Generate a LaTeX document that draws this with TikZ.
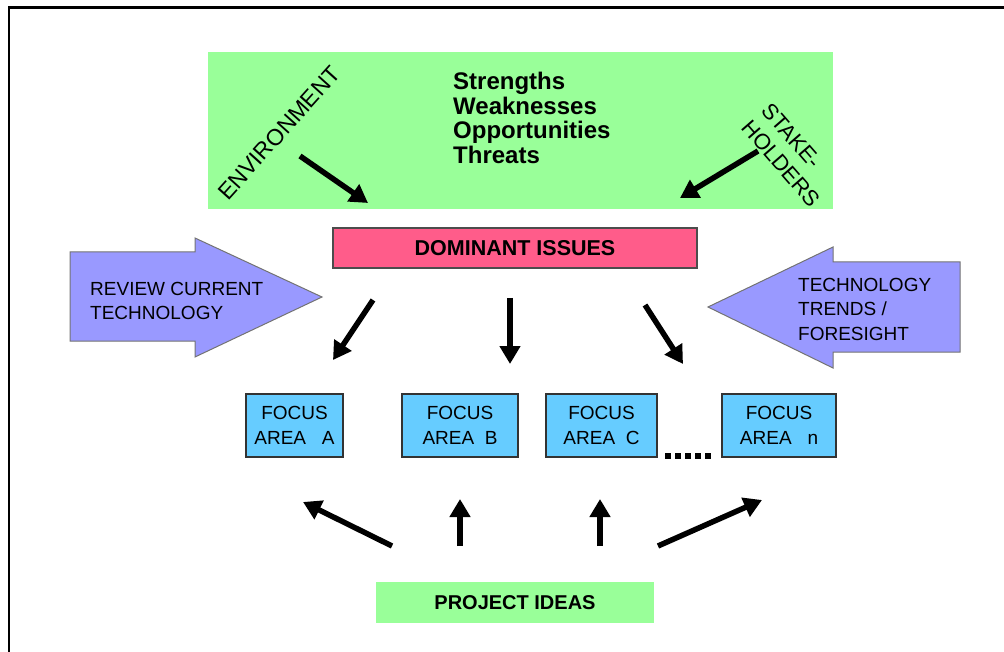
\documentclass[tikz,border=0pt]{standalone}
\usepackage{fontspec}
\setmainfont{Liberation Sans}
\usetikzlibrary{arrows.meta}
\definecolor{swotgreen}{HTML}{99FF99}
\definecolor{issuepink}{HTML}{FF5C8A}
\definecolor{bigarrow}{HTML}{9999FF}
\definecolor{focusblue}{HTML}{66CCFF}
\begin{document}
\begin{tikzpicture}[x=1pt,y=-1pt,
  fat/.style={line width=5.5pt,-{Triangle[length=18pt,width=20pt]}},
  greenbox/.style={fill=swotgreen,draw=none,inner sep=0pt},
  focusbox/.style={draw=black!80,line width=1.2pt,fill=focusblue,inner sep=0pt,minimum height=63pt,align=center,font=\fontsize{19}{25}\selectfont},
  bigarr/.style={draw=black!55,line width=1pt,fill=bigarrow},
  arrtext/.style={anchor=west,align=left,inner sep=0pt,font=\fontsize{19}{24.5}\selectfont}
]
\useasboundingbox (0,0) rectangle (1004,652);
% frame
\draw[line width=2.5pt] (9,653) -- (9,7.5) -- (1005,7.5);

% top green box
\node[greenbox,minimum width=625pt,minimum height=157pt] (swot) at (520.5,130.5) {};
\node[anchor=north west,align=left,inner sep=0pt,font=\fontsize{24}{24.5}\selectfont\bfseries] (swottext) at (453,72)
  {Strengths\\Weaknesses\\Opportunities\\Threats};
\node[rotate=48,inner sep=0pt,font=\fontsize{23}{25}\selectfont] (env) at (279,133) {ENVIRONMENT};
\node[rotate=-49,anchor=north west,align=left,inner sep=0pt,font=\fontsize{22}{26}\selectfont] (stake) at (772,101) {STAKE-\\HOLDERS};

% dominant issues
\node[draw=black!70,line width=1.2pt,fill=issuepink,minimum width=364pt,minimum height=40pt,inner sep=0pt,font=\fontsize{21.5}{24}\selectfont\bfseries] (dom) at (515,248) {DOMINANT ISSUES};

% big arrows
\draw[bigarr] (70,252) -- (195,252) -- (195,238) -- (322,297) -- (195,357) -- (195,341) -- (70,341) -- cycle;
\node[arrtext] (review) at (90,301) {REVIEW CURRENT\\TECHNOLOGY};
\draw[bigarr] (960,262) -- (833,262) -- (833,247) -- (708,307) -- (833,368) -- (833,352) -- (960,352) -- cycle;
\node[arrtext] (trends) at (798,309) {TECHNOLOGY\\TRENDS /\\FORESIGHT};

% focus boxes
\node[focusbox,minimum width=97pt] (fa) at (294.5,425.5) {FOCUS\\AREA\ \ \ A};
\node[focusbox,minimum width=116pt] (fb) at (460,425.5) {FOCUS\\AREA\ \ B};
\node[focusbox,minimum width=111pt] (fc) at (601.5,425.5) {FOCUS\\AREA\ \ C};
\node[focusbox,minimum width=114pt] (fn) at (779,425.5) {FOCUS\\AREA\ \ \ n};
\coordinate (d1) at (665,456);
\coordinate (d2) at (713,456);
\draw[line width=6pt,dash pattern=on 6pt off 4pt] (d1) -- (d2);

% project ideas
\node[greenbox,minimum width=278pt,minimum height=41pt,font=\fontsize{20}{24}\selectfont\bfseries] (proj) at (515,602.5) {PROJECT IDEAS};

% arrows
\coordinate (e1) at (300,156); \coordinate (e2) at (368,203);
\coordinate (s1) at (758,151); \coordinate (s2) at (680,198);
\draw[fat] (e1) -- (e2);
\draw[fat] (s1) -- (s2);
\coordinate (a1) at (373,300); \coordinate (a2) at (333,360);
\coordinate (b1) at (510,298); \coordinate (b2) at (510,364);
\coordinate (c1) at (645,305); \coordinate (c2) at (683,364);
\draw[fat] (a1) -- (a2);
\draw[fat] (b1) -- (b2);
\draw[fat] (c1) -- (c2);
\coordinate (p1) at (392,546); \coordinate (p2) at (303,502);
\coordinate (q1) at (460,546); \coordinate (q2) at (460,499);
\coordinate (r1) at (600,546); \coordinate (r2) at (600,499);
\coordinate (t1) at (658,546); \coordinate (t2) at (762,500);
\draw[fat] (p1) -- (p2);
\draw[fat] (q1) -- (q2);
\draw[fat] (r1) -- (r2);
\draw[fat] (t1) -- (t2);
\end{tikzpicture}
\end{document}
